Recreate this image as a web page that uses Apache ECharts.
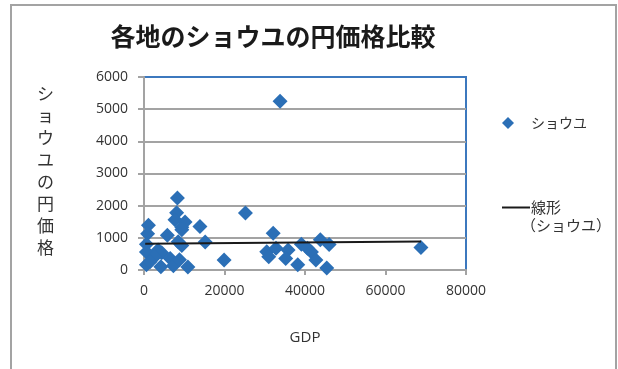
<!DOCTYPE html>
<html>
<head>
<meta charset="utf-8">
<script src="https://cdn.jsdelivr.net/npm/echarts@6/dist/echarts.min.js"></script>
<style>
  html, body { margin: 0; padding: 0; background: #fff; }
  #chart { width: 618px; height: 369px; }
</style>
</head>
<body>
<div id="chart"></div>
<script>
// GDP per region and the local price of soy sauce (円)
const gdp = [
  33800, 8300, 8100, 7700, 10200, 9400, 25200, 13900, 1100, 900,
  5800, 15200, 8500, 9400, 32100, 19900, 600, 600, 3500, 4400,
  2700, 600, 4200, 6500, 7300, 8800, 10900, 30500, 31000, 32800,
  35800, 35200, 38200, 39100, 40600, 41600, 42700, 43800, 46000, 45400,
  68800, 9400, 1500
];
const price = [
  5250, 2240, 1780, 1560, 1490, 1330, 1770, 1350, 1390, 1130,
  1080, 870, 880, 760, 1140, 310, 800, 560, 620, 540,
  420, 160, 100, 360, 130, 320, 90, 570, 410, 680,
  620, 360, 160, 800, 680, 560, 310, 940, 790, 60,
  700, 1250, 260
];

// Linear trend line endpoints
const trendX = [300, 68800];
const trendY = [815, 885];

// Axis ticks
const xTicks = [0, 20000, 40000, 60000, 80000];
const yTicks = [0, 1000, 2000, 3000, 4000, 5000, 6000];

const seriesName = 'ショウユ';
const trendName = '線形';

const scatterData = gdp.map((g, i) => [g, price[i]]);
const trendData = trendX.map((x, i) => [x, trendY[i]]);

const jp = '"Noto Sans CJK JP", "Noto Sans", sans-serif';
const num = '"Open Sans", "Liberation Sans", sans-serif';
const plain = v => String(v);

const chart = echarts.init(document.getElementById('chart'), null, { renderer: 'canvas' });

chart.setOption({
  backgroundColor: '#ffffff',
  animation: false,
  title: {
    text: '各地のショウユの円価格比較',
    left: 268,
    top: 19,
    textAlign: 'center',
    textStyle: { fontFamily: jp, fontSize: 25, fontWeight: 'bold', color: '#1a1a1a' }
  },
  grid: {
    left: 144, right: 152, top: 77, bottom: 99,
    show: true,
    borderColor: '#3C78BE',
    borderWidth: 2,
    backgroundColor: '#ffffff'
  },
  xAxis: {
    type: 'value',
    min: xTicks[0],
    max: xTicks[xTicks.length - 1],
    interval: xTicks[1] - xTicks[0],
    name: 'GDP',
    nameLocation: 'middle',
    nameGap: 60,
    nameTextStyle: { fontFamily: num, fontSize: 15, color: '#333' },
    axisLine: { show: true, onZero: false, lineStyle: { color: '#A3A3A3', width: 2 } },
    axisTick: { show: true, inside: false, length: 5, lineStyle: { color: '#A3A3A3', width: 2 } },
    axisLabel: { margin: 14, fontFamily: num, fontSize: 14, color: '#333', formatter: plain },
    splitLine: { show: false }
  },
  yAxis: {
    type: 'value',
    min: yTicks[0],
    max: yTicks[yTicks.length - 1],
    interval: yTicks[1] - yTicks[0],
    axisLine: { show: true, onZero: false, lineStyle: { color: '#A3A3A3', width: 2 } },
    axisTick: { show: true, inside: false, length: 6, lineStyle: { color: '#A3A3A3', width: 2 } },
    axisLabel: { margin: 16, fontFamily: num, fontSize: 14, color: '#333', formatter: plain },
    splitLine: { show: true, showMinLine: false, showMaxLine: false, lineStyle: { color: '#A3A3A3', width: 2 } }
  },
  legend: [
    {
      data: [{ name: seriesName, icon: 'diamond' }],
      left: 497, top: 111,
      itemWidth: 12, itemHeight: 12,
      textStyle: { fontFamily: jp, fontSize: 14, color: '#333', padding: [0, 0, 0, 12] },
      selectedMode: false
    },
    {
      data: [{ name: trendName, icon: 'rect' }],
      left: 497, top: 195,
      itemWidth: 28, itemHeight: 2,
      textStyle: { fontFamily: jp, fontSize: 15, color: '#333', padding: [0, 0, 0, -4] },
      selectedMode: false
    }
  ],
  graphic: [
    {
      type: 'rect',
      shape: { x: 11, y: 5, width: 605, height: 380 },
      style: { fill: 'none', stroke: '#A3A3A3', lineWidth: 2 },
      silent: true, z: -1
    },
    {
      type: 'text',
      left: 37, top: 83,
      style: {
        text: 'シ\nョ\nウ\nユ\nの\n円\n価\n格',
        fontFamily: jp, fontSize: 17, lineHeight: 22,
        fill: '#333', align: 'center'
      }
    },
    {
      type: 'text',
      left: 521, top: 218,
      style: { text: '（ショウユ）', fontFamily: jp, fontSize: 15, fill: '#333' }
    }
  ],
  series: [
    {
      name: seriesName,
      type: 'scatter',
      data: scatterData,
      symbol: 'diamond',
      symbolSize: 15,
      itemStyle: { color: '#2B6FB6', opacity: 1 },
      z: 2
    },
    {
      name: trendName,
      type: 'line',
      data: trendData,
      symbol: 'none',
      lineStyle: { color: '#1a1a1a', width: 2 },
      itemStyle: { color: '#1a1a1a' },
      z: 3
    }
  ]
});
</script>
</body>
</html>
